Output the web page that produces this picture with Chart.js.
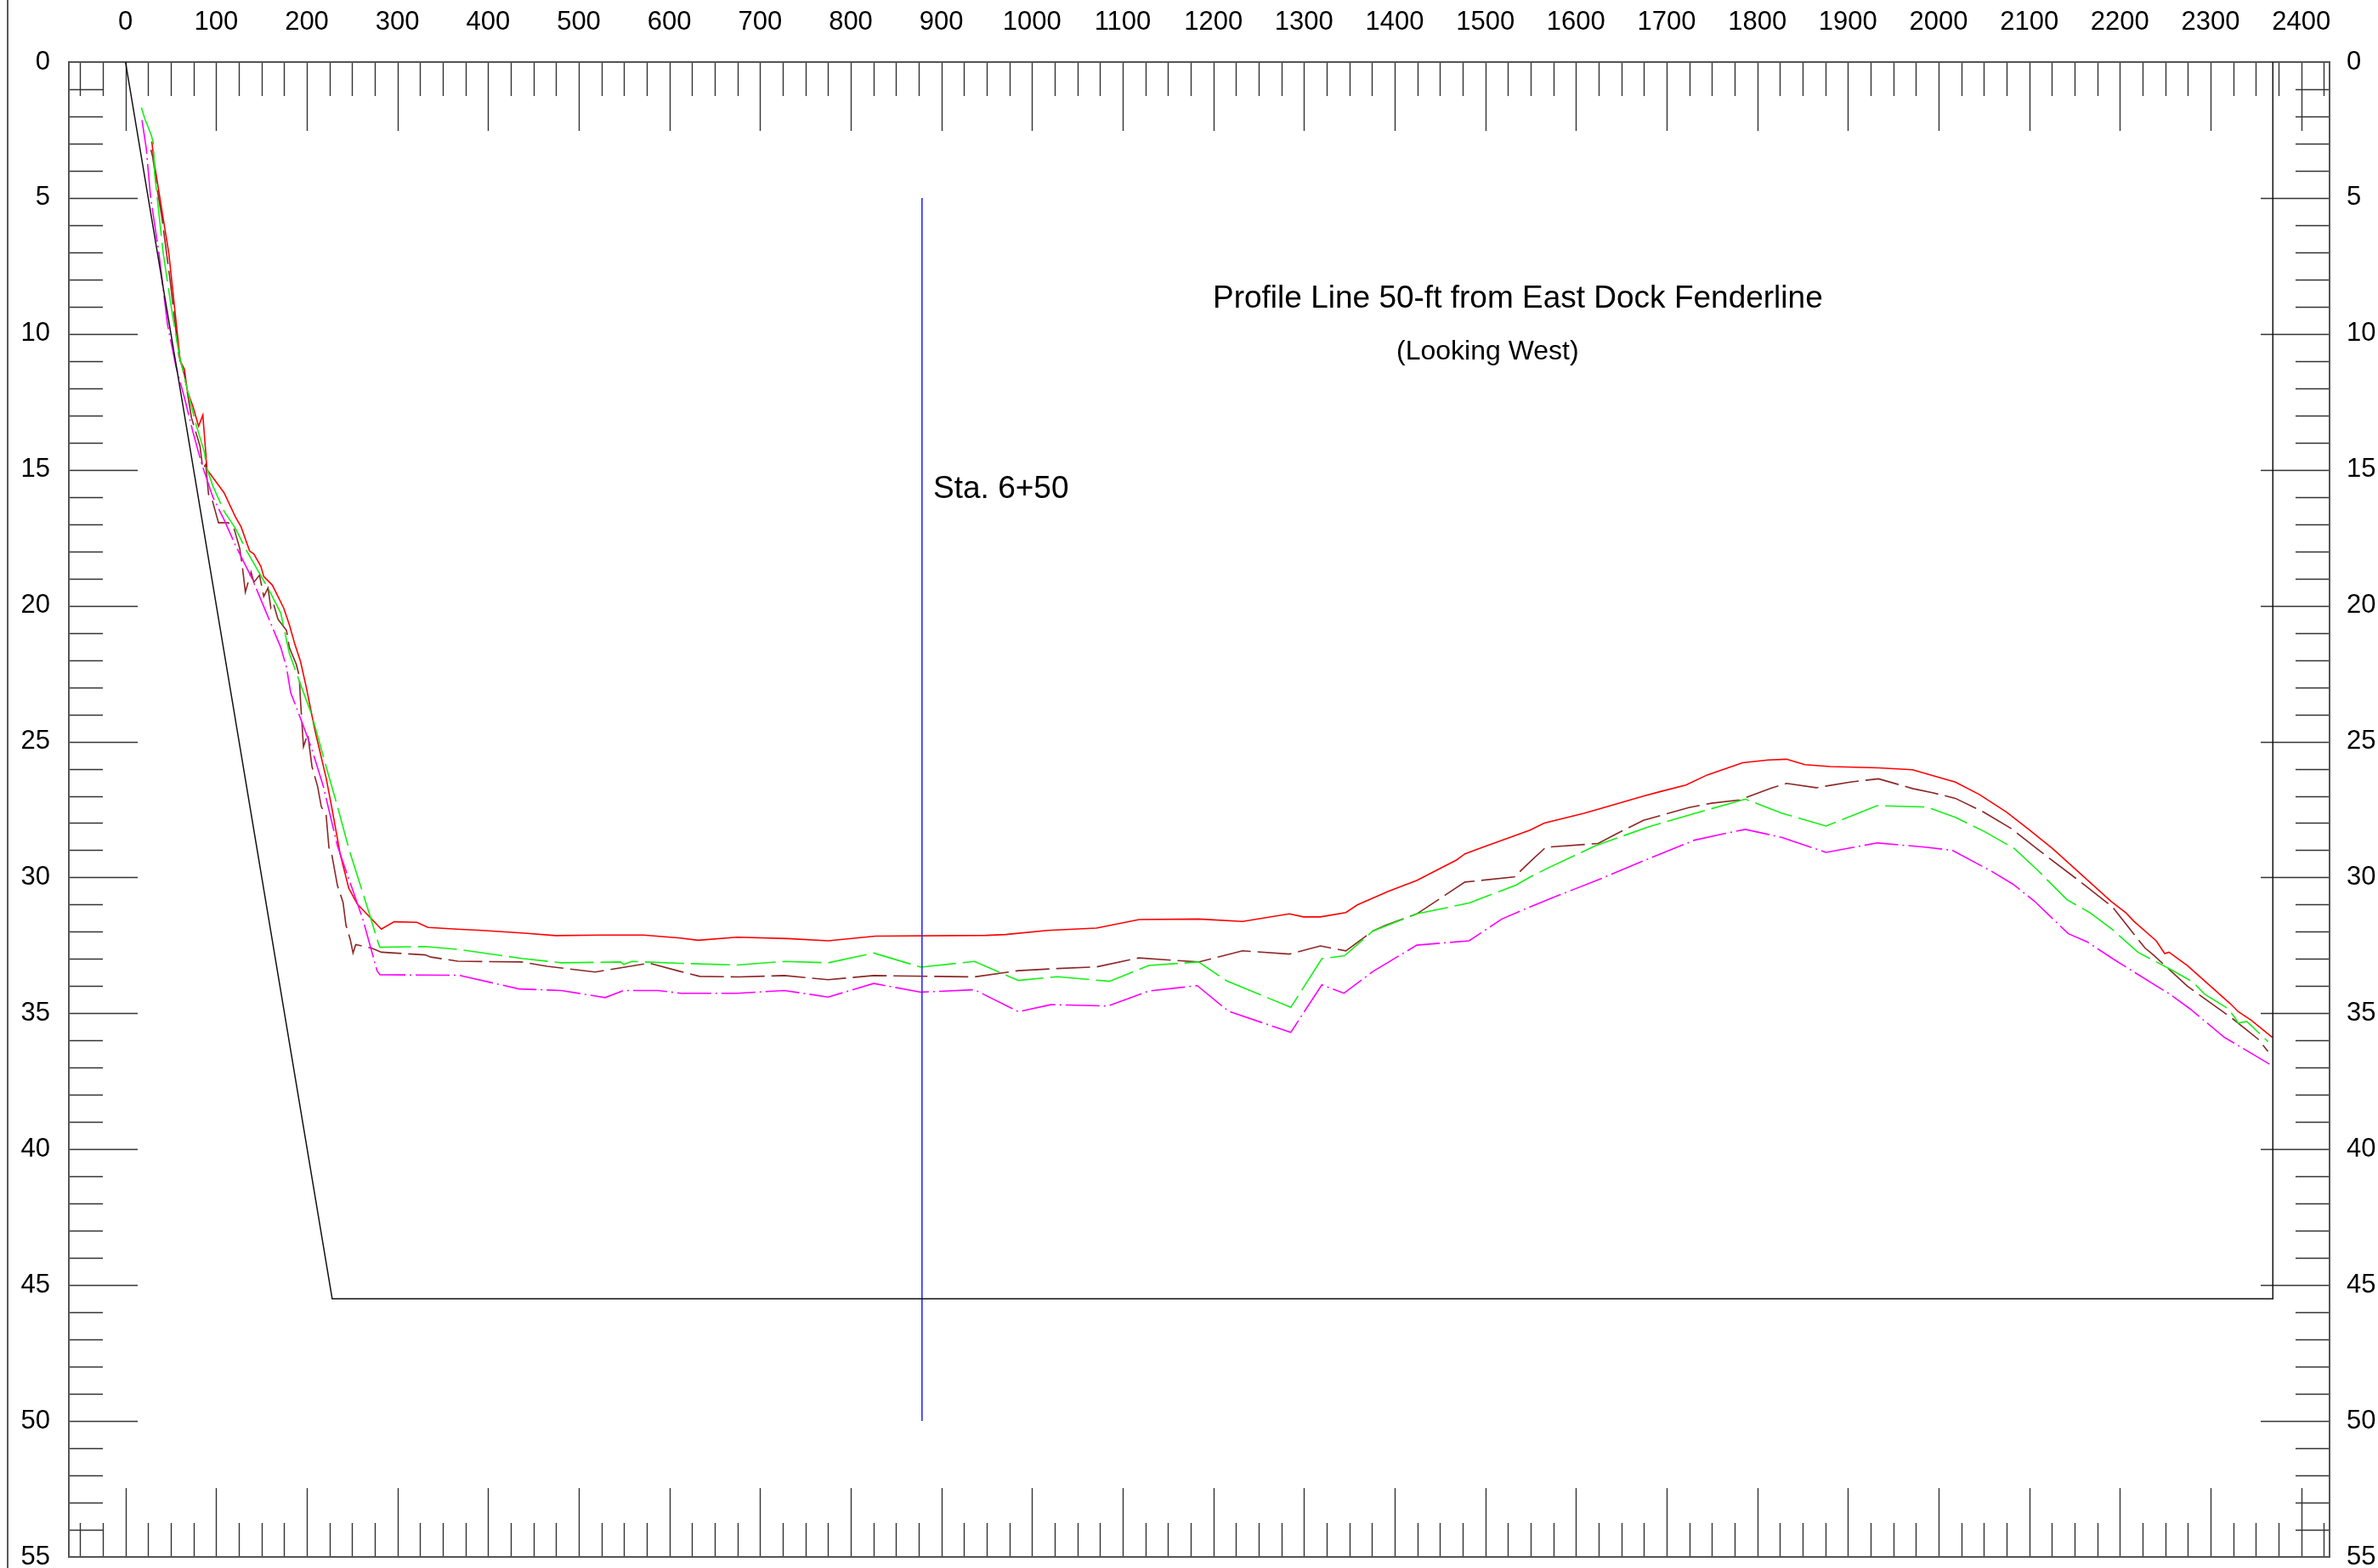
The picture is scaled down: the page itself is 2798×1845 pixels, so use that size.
<!DOCTYPE html>
<html>
<head>
<meta charset="utf-8">
<title>Profile Line 50-ft from East Dock Fenderline</title>
<script src="https://cdn.jsdelivr.net/npm/chart.js@4.4.1/dist/chart.umd.min.js"></script>
<style>
  html, body { margin: 0; padding: 0; background: #fff; overflow: hidden; }
  #wrap { position: relative; width: 2798px; height: 1880px; }
</style>
</head>
<body>
<div id="wrap"><canvas id="profile" width="2798" height="1880"></canvas></div>
<script>
/* ── DATA ───────────────────────────────────────────────── */
// distance along the profile (ft) and depth (ft)
const xLabels = [0,100,200,300,400,500,600,700,800,900,1000,1100,1200,1300,1400,1500,1600,1700,1800,1900,2000,2100,2200,2300,2400];
const yLabels = [0,5,10,15,20,25,30,35,40,45,50,55];

const redX = [29,32.2,47.8,60.4,65,68.2,74.4,80.6,85.3,90,96.3,108.8,121.3,127.5,136.9,141.6,149.4,152.5,161.9,174.4,180.7,186.9,193.1,199.4,208.8,221.3,227.4,236.9,246.3,255.7,282.2,296.3,321.3,333.7,365,393,440,474.4,524.4,571.3,612,631.6,674.7,730.3,775.1,827.2,949.1,970.7,1017.4,1071.2,1118.1,1183.7,1232.2,1283.8,1299.4,1318.1,1346.2,1358.8,1393.1,1424.4,1468.1,1477.5,1493.1,1549.4,1565,1608.7,1627.5,1674.4,1693.1,1721.2,1744.7,1783.8,1811.9,1832.2,1852.5,1880.6,1933.8,1971.3,1993.2,2018.5,2045,2075,2100,2125.9,2190,2207.2,2215,2240,2249.4,2254.1,2274.4,2321.3,2330.6,2344.7,2368.1];
const redDepth = [2.92,3.81,7.04,11,11.3,12.1,12.67,13.4,12.99,15,15.28,15.85,16.74,17.1,17.99,18.1,18.56,18.93,19.24,20.08,20.7,21.43,22.06,23,24.56,26.34,27.4,29.15,30.4,30.98,31.9,31.63,31.65,31.84,31.9,31.95,32.05,32.14,32.12,32.12,32.23,32.31,32.2,32.25,32.33,32.16,32.13,32.1,31.95,31.86,31.55,31.53,31.62,31.34,31.45,31.45,31.29,31.01,30.51,30.11,29.36,29.13,28.94,28.26,28,27.64,27.46,27.01,26.84,26.6,26.23,25.78,25.68,25.65,25.85,25.92,25.97,26.04,26.25,26.49,26.95,27.6,28.25,28.94,30.87,31.32,31.6,32.33,32.8,32.75,33.24,34.63,34.94,35.25,35.88];

const brownX = [28.1,30,35.3,40,49.4,58.8,65.1,68.2,72.8,82.2,85.3,88.5,91.6,94.7,102.6,113.4,119.7,126,129.1,132.2,138.5,141.6,147.8,152.5,157.2,160.3,163,168.2,177.6,180.7,188.4,191.6,193.1,196.3,201,205.7,211.9,216,221.3,224.4,227.5,233.8,240,243.2,247.9,251,254,271.3,282.2,330.6,336.9,366.5,436.9,465,518.2,577.5,612.2,633.5,676.5,726.7,775.1,825.4,936.5,985,1028,1071.2,1117.8,1183.7,1232.2,1283.8,1318.1,1346.2,1376,1390,1424.4,1477.5,1532.2,1549.7,1566.6,1624.4,1643.1,1674.4,1724.4,1749.4,1780.6,1815,1832.2,1865,1902.5,1933.8,1971.3,1993.2,2018.5,2050,2080,2110.3,2161.9,2191.6,2227.5,2236.9,2274.4,2324.4,2352.5,2363.4];
const brownDepth = [3.23,3.49,4.75,5.68,8.08,10.79,11.52,12.15,13.09,14.13,14.97,14.8,15.9,16,16.95,16.95,17.16,17.89,18.62,19.5,18.77,19.14,18.88,19.66,19.35,20.08,19.9,20.5,20.91,21.54,22.16,22.58,23.52,25.19,24.72,25.92,26.65,27.4,27.7,28.9,29.15,30.3,30.92,31.76,32.28,32.78,32.47,32.6,32.75,32.85,32.93,33.08,33.11,33.27,33.48,33.15,33.46,33.64,33.66,33.61,33.76,33.61,33.66,33.43,33.35,33.29,32.96,33.11,32.7,32.82,32.52,32.7,31.97,31.76,31.34,30.17,29.98,29.41,28.89,28.75,28.42,27.9,27.43,27.27,27.15,26.72,26.54,26.7,26.49,26.37,26.73,26.88,27.09,27.6,28.2,28.99,30.3,31.08,32.59,32.85,34,35.2,35.95,36.4];

const greenX = [17.5,21.3,28.1,30.7,32.2,41.6,51,58.8,68.2,77.5,86.9,90,96.3,108.8,121.3,133.8,146.2,158.8,171.3,180.7,193.1,205.7,221.3,233.8,246.3,268.1,279.1,280.7,330.6,368.1,436.9,480.6,546.2,549.4,558.7,612.2,674.7,726.7,775.1,825.4,877.4,936.5,985,1028,1085.5,1128.6,1183.7,1215,1285.4,1319.7,1344.7,1376,1424.4,1482.2,1533.8,1549.7,1568.1,1621.2,1680.6,1743.1,1786.9,1827.5,1875.9,1932.2,1986.9,2018.5,2050,2083.8,2108.8,2141.6,2166.6,2191.6,2219.8,2255.7,2280.7,2293.2,2319.8,2327.6,2330.6,2340,2363.4];
const greenDepth = [1.67,2.09,2.66,2.97,4.12,7.04,9.13,10.69,12.05,13.3,14.34,14.97,15.59,16.53,17.16,17.99,18.72,19.45,20.28,21.75,22.9,24.04,25.92,27.38,28.94,31.24,32.44,32.57,32.54,32.65,32.98,33.14,33.11,33.2,33.09,33.16,33.22,33.09,33.14,32.78,33.3,33.09,33.79,33.65,33.82,33.24,33.11,33.81,34.78,32.99,32.88,31.97,31.34,30.94,30.28,29.98,29.67,28.84,28.13,27.53,27.12,27.64,28.11,27.36,27.41,27.79,28.3,28.94,29.72,30.82,31.29,31.91,32.75,33.38,33.85,34.29,34.84,35.2,35.36,35.3,36.04];

const magentaX = [18.2,22.9,27.6,36.9,46.3,55.7,65.1,74.4,83.8,96.3,108.8,121.3,140,155.6,171.3,177.6,182.2,193.1,205.7,218.2,233.8,261.9,277.5,280.7,368.1,433.8,480.6,529.1,549.4,586.9,612.2,674.7,726.7,775.1,825.4,877.4,936.5,985,1020.9,1083.7,1128.6,1182.2,1216.6,1285.4,1319.7,1344.1,1376,1424.4,1482.2,1518.2,1549.7,1580.6,1624.4,1671.3,1730.6,1761.9,1786.9,1827.5,1875.9,1932.2,1986.9,2015,2058.7,2082.2,2105.6,2143.1,2163.4,2193.1,2255.7,2277.6,2315.1,2365];
const magentaDepth = [2.14,3.18,4.95,7.04,9.65,11.21,12.36,13.61,14.76,16,16.84,17.78,19.03,20.28,21.54,22.27,23.2,24.15,25.29,26.65,28.84,31.55,33.43,33.58,33.6,34.1,34.16,34.42,34.16,34.16,34.26,34.26,34.16,34.4,33.9,34.22,34.13,34.94,34.68,34.73,34.18,33.98,34.92,35.7,33.95,34.26,33.46,32.49,32.33,31.53,31.08,30.66,30.09,29.43,28.63,28.4,28.23,28.53,29.08,28.73,28.89,29,29.78,30.25,30.87,32.07,32.36,33.01,34.31,34.84,35.88,36.87];

// design template and station marker
const designX = [0,228,2368.7,2368.7];
const designDepth = [0,45.5,45.5,0];
const stationX = [878.6,878.6];
const stationDepth = [5,50];

const notes = [
  { text: 'Profile Line 50-ft from East Dock Fenderline', x: 1535.8, y: 9.04, size: 37, align: 'center' },
  { text: '(Looking West)', x: 1502.5, y: 10.95, size: 32, align: 'center' },
  { text: 'Sta. 6+50', x: 891, y: 16.05, size: 37, align: 'left' }
];

const FONT = '"Liberation Sans", Arial, Helvetica, sans-serif';
const X_MIN = -62.5, X_MAX = 2431.25;

function pts(xs, ys) { return xs.map((x, i) => ({ x, y: ys[i] })); }

function line(label, xs, ys, color, dash, width) {
  return {
    label, data: pts(xs, ys), showLine: true, borderColor: color, backgroundColor: color,
    borderWidth: width || 1.6, borderDash: dash || [], pointRadius: 0, tension: 0,
    xAxisID: 'x', yAxisID: 'y'
  };
}

/* ── FRAME & INWARD TICKS ───────────────────────────────── */
const framePlugin = {
  id: 'frame',
  beforeDraw(chart) {
    const { ctx, chartArea: a } = chart;
    const xs = chart.scales.x, ys = chart.scales.y;
    ctx.save();
    // outer border on the far left of the sheet
    ctx.strokeStyle = '#222'; ctx.lineWidth = 1.5;
    ctx.beginPath(); ctx.moveTo(9, 0); ctx.lineTo(9, chart.height); ctx.stroke();

    ctx.strokeStyle = '#333'; ctx.lineWidth = 1.4;
    ctx.beginPath();
    for (let v = -50; v <= 2425; v += 25) {
      const px = Math.round(xs.getPixelForValue(v)) + 0.5;
      const len = v % 100 === 0 ? 81 : 40;
      ctx.moveTo(px, a.top); ctx.lineTo(px, a.top + len);
      ctx.moveTo(px, a.bottom); ctx.lineTo(px, a.bottom - len);
    }
    for (let d = 1; d < 55; d++) {
      const py = Math.round(ys.getPixelForValue(d)) + 0.5;
      const len = d % 5 === 0 ? 81 : 40;
      ctx.moveTo(a.left, py); ctx.lineTo(a.left + len, py);
      ctx.moveTo(a.right, py); ctx.lineTo(a.right - len, py);
    }
    ctx.stroke();

    ctx.strokeStyle = '#555'; ctx.lineWidth = 2;
    ctx.strokeRect(a.left, a.top, a.right - a.left, a.bottom - a.top);
    ctx.restore();
  },
  afterDatasetsDraw(chart) {
    const { ctx } = chart;
    const xs = chart.scales.x, ys = chart.scales.y;
    ctx.save();
    ctx.fillStyle = '#000';
    ctx.textBaseline = 'alphabetic';
    notes.forEach(n => {
      ctx.font = n.size + 'px ' + FONT;
      ctx.textAlign = n.align;
      ctx.fillText(n.text, xs.getPixelForValue(n.x), ys.getPixelForValue(n.y));
    });
    ctx.restore();
  }
};

/* ── SCALES ─────────────────────────────────────────────── */
const noGrid = { display: false, drawTicks: false };
const tickFont = { family: FONT, size: 31 };
const plain = v => String(v);

new Chart(document.getElementById('profile'), {
  type: 'scatter',
  data: {
    datasets: [
      line('Design', designX, designDepth, '#111', [], 1.5),
      line('Sta. 6+50', stationX, stationDepth, '#2a2aff', [], 1.6),
      line('Survey D', magentaX, magentaDepth, '#ff00ff', [40, 5, 2, 5]),
      line('Survey C', greenX, greenDepth, '#14f014', [46, 8]),
      line('Survey B', brownX, brownDepth, '#8c2626', [40, 8]),
      line('Survey A', redX, redDepth, '#ff0000')
    ]
  },
  options: {
    responsive: false,
    animation: false,
    events: [],
    layout: { padding: 0 },
    plugins: { legend: { display: false }, tooltip: { enabled: false } },
    scales: {
      x: {
        type: 'linear', position: 'bottom', min: X_MIN, max: X_MAX,
        grid: noGrid, border: { display: false }, ticks: { display: false },
        afterFit: s => { s.height = 48; }
      },
      xTop: {
        type: 'linear', position: 'top', min: X_MIN, max: X_MAX,
        grid: noGrid, border: { display: false },
        ticks: { font: tickFont, color: '#000', padding: 28, maxRotation: 0, autoSkip: false, callback: plain },
        afterBuildTicks: s => { s.ticks = xLabels.map(v => ({ value: v })); },
        afterFit: s => { s.height = 73; }
      },
      y: {
        type: 'linear', position: 'left', reverse: true, min: 0, max: 55,
        grid: noGrid, border: { display: false },
        ticks: { font: tickFont, color: '#000', padding: 22, autoSkip: false, callback: plain },
        afterBuildTicks: s => { s.ticks = yLabels.map(v => ({ value: v })); },
        afterFit: s => { s.width = 81; }
      },
      yRight: {
        type: 'linear', position: 'right', reverse: true, min: 0, max: 55,
        grid: noGrid, border: { display: false },
        ticks: { font: tickFont, color: '#000', padding: 20, autoSkip: false, callback: plain },
        afterBuildTicks: s => { s.ticks = yLabels.map(v => ({ value: v })); },
        afterFit: s => { s.width = 57; }
      }
    }
  },
  plugins: [framePlugin]
});
</script>
</body>
</html>
